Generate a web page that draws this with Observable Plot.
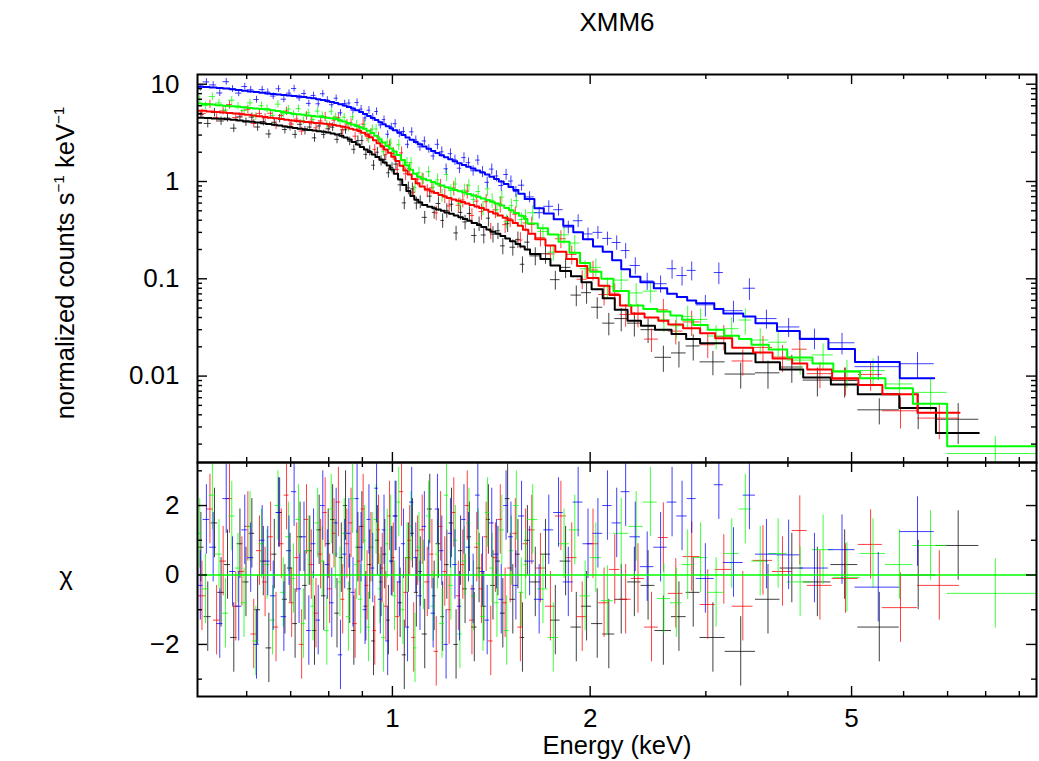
<!DOCTYPE html>
<html>
<head>
<meta charset="utf-8">
<script src="https://cdn.jsdelivr.net/npm/d3@7"></script>
<script src="https://cdn.jsdelivr.net/npm/@observablehq/plot@0.6"></script>
<style>
html,body{margin:0;padding:0;background:#fff;}
#wrap{position:relative;width:1039px;height:761px;overflow:hidden;font-family:"Liberation Sans",Arial,Helvetica,sans-serif;color:#000;}
.pane{position:absolute;left:0;}
#top{top:0;}
#bot{top:462px;}
.lbl{position:absolute;white-space:nowrap;line-height:1;}
.lbl sup{font-size:0.6em;vertical-align:0.7em;line-height:0;}
</style>
</head>
<body>
<div id="wrap">
  <div class="pane" id="top"></div>
  <div class="pane" id="bot"></div>
  <div class="lbl" style="left:617px;top:22px;transform:translate(-50%,-50%);font-size:26px">XMM6</div>
  <div class="lbl" style="left:617px;top:746px;transform:translate(-50%,-50%);font-size:25.5px">Energy (keV)</div>
  <div class="lbl" style="left:66px;top:263px;transform:translate(-50%,-50%) rotate(-90deg);font-size:25.5px">normalized counts s<sup>−1</sup> keV<sup>−1</sup></div>
  <div class="lbl" style="left:66px;top:576px;transform:translate(-50%,-50%);font-size:26px">χ</div>
</div>
<script>
// ---------------- tick values ----------------
const energyMajor = [1, 2, 5];
const energyMinor = [0.6, 0.7, 0.8, 0.9, 3, 4, 6, 7, 8, 9];
const rateMajor = [0.01, 0.1, 1, 10];
const rateMinor = [0.002,0.003,0.004,0.005,0.006,0.007,0.008,0.009,0.02,0.03,0.04,0.05,0.06,0.07,0.08,0.09,0.2,0.3,0.4,0.5,0.6,0.7,0.8,0.9,2,3,4,5,6,7,8,9];
const chiMajor = [-2, 0, 2];
const chiMinor = [-3, -1, 1, 3];

// ---------------- black spectrum ----------------
const blackEdges = [0.505,0.517,0.530,0.542,0.555,0.567,0.580,0.592,0.605,0.617,0.630,0.642,0.655,0.667,0.680,0.692,0.705,0.717,0.730,0.742,0.755,0.767,0.780,0.792,0.805,0.817,0.830,0.842,0.855,0.867,0.880,0.892,0.905,0.917,0.930,0.942,0.955,0.967,0.980,0.992,1.005,
  1.02,1.035,1.05,1.065,1.08,1.095,1.11,1.13,1.15,1.165,1.185,1.2,1.22,1.24,1.26,1.28,1.30,1.32,1.345,1.365,1.39,1.41,1.435,1.46,1.485,1.51,1.54,1.565,1.59,1.62,
  1.68,1.74,1.8,1.87,1.94,2.01,
  2.09,2.18,2.28,2.39,2.51,2.66,2.8,2.94,
  3.21,3.57,3.89,4.22,4.65,5.11,5.91,6.72,7.81];
const blackModel = [4.53,4.49,4.45,4.41,4.36,4.3,4.24,4.17,4.1,4.03,3.97,3.9,3.83,3.76,3.68,3.61,3.55,3.49,3.44,3.39,
  3.34,3.29,3.24,3.19,3.12,3.04,2.95,2.83,2.7,2.55,2.4,2.26,2.13,2.01,1.9,1.79,1.68,1.57,1.46,1.33,
  1.2,1.05,0.92,0.8,0.71,0.65,0.61,0.575,0.55,0.53,0.515,0.5,0.48,0.465,0.448,0.43,0.412,0.395,0.375,0.357,
  0.34,0.322,0.305,0.29,0.275,0.26,0.243,0.228,0.215,0.2,
  0.18,0.16,0.137,0.12,0.106,0.092,
  0.078,0.063,0.048,0.037,0.033,0.03,0.027,0.024,
  0.0217,0.0171,0.0139,0.0117,0.0097,0.0082,0.0065,0.0047,0.0026];
const blackData = [4.89,3.95,5.12,4.19,4.49,3.53,4.62,4.09,4.59,3.63,4.13,3.08,4.06,4.44,3.42,3.68,3.05,3.87,3.34,3.63,
  2.81,3.72,3.05,3.48,3.62,2.71,3.1,3.4,2.59,2.14,2.63,2.64,1.9,2.08,1.47,2.0,1.64,1.68,1.23,1.39,
  1.51,0.924,0.603,0.86,0.838,0.601,0.619,0.428,0.707,0.482,0.594,0.398,0.504,0.584,0.296,0.481,0.384,0.469,0.279,0.369,
  0.282,0.42,0.288,0.312,0.218,0.369,0.211,0.254,0.141,0.238,
  0.172,0.181,0.098,0.131,0.068,0.072,
  0.051,0.035,0.039,0.035,0.030,0.0156,0.0173,0.0204,
  0.014,0.0105,0.0108,0.0124,0.0091,0.009,0.0045,0.0047,0.0036];
const blackErr = [0.09,0.1,0.1,0.1,0.09,0.1,0.1,0.1,0.1,0.1,0.1,0.1,0.1,0.1,0.1,0.1,0.1,0.11,0.1,0.1,
  0.1,0.1,0.1,0.11,0.1,0.1,0.11,0.1,0.1,0.11,0.12,0.12,0.12,0.12,0.12,0.12,0.12,0.12,0.12,0.12,
  0.15,0.15,0.15,0.15,0.15,0.15,0.15,0.15,0.15,0.15,0.17,0.17,0.17,0.17,0.17,0.17,0.17,0.17,0.17,0.17,
  0.19,0.19,0.19,0.19,0.19,0.19,0.19,0.19,0.19,0.19,
  0.21,0.22,0.22,0.23,0.24,0.24,
  0.25,0.26,0.27,0.28,0.28,0.3,0.3,0.3,
  0.28,0.3,0.32,0.32,0.33,0.34,0.3,0.4,0.45];
const blackChi = [0.8,-1.2,1.5,-0.5,0.3,-1.8,0.9,-0.2,1.2,-1.0,0.4,-2.1,0.6,1.8,-0.7,0.2,-1.4,1.1,-0.3,0.7,
  -1.6,1.3,-0.6,0.9,1.6,-1.1,0.5,2.0,-0.4,-1.6,0.8,1.4,-0.9,0.3,-1.9,1.0,-0.2,0.6,-1.3,0.4,
  1.7,-0.8,-2.3,0.5,1.2,-0.5,0.1,-1.7,1.9,-0.6,0.9,-1.2,0.3,1.5,-2.0,0.7,-0.4,1.1,-1.5,0.2,
  -0.9,1.6,-0.3,0.4,-1.1,2.2,-0.7,0.6,-1.8,1.0,
  -0.2,0.6,-1.3,0.4,-1.5,-0.9,
  -1.4,-1.7,-0.7,-0.2,-0.3,-1.6,-1.2,-0.5,
  -1.8,-2.2,-0.7,0.2,-0.2,0.3,-1.5,0.0,0.85];

// ---------------- red spectrum ----------------
const redEdges = [0.505,0.521,0.534,0.546,0.559,0.571,0.584,0.596,0.609,0.621,0.634,0.646,0.659,0.671,0.684,0.696,0.709,0.721,0.734,0.746,0.759,0.771,0.784,0.796,0.809,0.821,0.834,0.846,0.859,0.871,0.884,0.896,0.909,0.921,0.934,0.946,0.959,0.971,0.984,0.996,
  1.01,1.025,1.04,1.055,1.07,1.085,1.1,1.12,1.14,1.157,1.175,1.193,1.21,1.23,1.25,1.27,1.29,1.31,1.333,1.355,1.378,1.4,1.423,1.447,1.472,1.497,1.525,1.552,1.58,1.61,
  1.65,1.71,1.77,1.84,1.91,1.98,
  2.06,2.14,2.22,2.31,2.42,2.54,2.63,2.77,2.94,
  3.1,3.29,3.54,3.79,4.06,4.28,4.67,5.12,5.57,6.3,7.3];
const redModel = [5.33,5.24,5.18,5.12,5.06,4.99,4.91,4.84,4.76,4.68,4.61,4.53,4.46,4.38,4.31,4.24,4.18,4.13,4.09,4.04,
  4.0,3.96,3.92,3.87,3.81,3.74,3.66,3.58,3.49,3.4,3.3,3.17,3.02,2.85,2.65,2.47,2.29,2.13,1.98,
  1.8,1.62,1.45,1.3,1.18,1.06,0.96,0.89,0.83,0.79,0.76,0.725,0.7,0.675,0.655,0.635,0.615,0.595,0.575,0.553,
  0.533,0.512,0.49,0.468,0.447,0.425,0.4,0.375,0.35,0.32,
  0.29,0.255,0.22,0.19,0.16,0.135,
  0.102,0.085,0.068,0.053,0.044,0.04,0.037,0.034,0.031,
  0.0275,0.0245,0.0196,0.0175,0.0152,0.0135,0.0117,0.0095,0.0081,0.0065,0.0042];
const redData = [5.01,6.24,4.51,5.32,6.17,4.54,4.96,5.52,3.95,5.01,4.52,5.03,3.79,4.77,5.3,3.9,4.39,3.3,4.74,4.16,
  3.56,4.2,4.63,3.72,4.27,4.53,3.4,3.9,4.01,2.92,3.46,3.89,2.91,3.12,2.14,2.86,2.34,1.9,2.38,
  1.94,1.33,1.97,1.2,1.36,0.774,1.06,1.06,0.805,0.861,0.476,0.898,0.712,0.56,0.855,0.57,0.646,0.797,0.448,0.628,
  0.492,0.619,0.313,0.512,0.583,0.36,0.415,0.461,0.25,0.375,
  0.362,0.265,0.18,0.258,0.178,0.099,
  0.123,0.069,0.071,0.043,0.043,0.024,0.048,0.029,0.036,
  0.021,0.0256,0.0143,0.0197,0.0157,0.0189,0.0106,0.0092,0.0104,0.0044,0.0037];
const redErr = [0.1,0.1,0.1,0.09,0.1,0.1,0.1,0.1,0.1,0.1,0.1,0.1,0.1,0.1,0.1,0.11,0.1,0.1,0.1,0.1,
  0.1,0.1,0.11,0.1,0.1,0.1,0.1,0.11,0.1,0.1,0.12,0.12,0.12,0.12,0.12,0.12,0.12,0.12,0.12,
  0.15,0.15,0.15,0.15,0.15,0.15,0.15,0.15,0.15,0.15,0.17,0.17,0.17,0.17,0.17,0.17,0.17,0.17,0.17,0.17,
  0.19,0.19,0.19,0.19,0.19,0.19,0.19,0.19,0.19,0.19,
  0.19,0.2,0.2,0.21,0.22,0.22,
  0.23,0.24,0.25,0.26,0.27,0.27,0.28,0.28,0.29,
  0.28,0.29,0.3,0.3,0.31,0.3,0.3,0.32,0.33,0.35,0.4];
const redChi = [-0.6,1.9,-1.3,0.4,2.2,-0.9,0.1,1.4,-1.7,0.7,-0.2,1.1,-1.5,0.9,2.3,-0.8,0.5,-2.0,1.6,0.3,
  -1.1,0.6,1.8,-0.4,1.2,2.1,-0.7,0.9,1.5,-1.4,0.4,1.9,-0.3,0.8,-1.6,1.3,0.2,-0.9,1.7,
  0.5,-1.2,2.4,-0.5,1.0,-1.8,0.7,1.3,-0.2,0.6,-2.2,1.4,0.1,-1.0,1.8,-0.6,0.3,2.0,-1.3,0.8,
  -0.4,1.1,-1.9,0.5,1.6,-0.8,0.2,1.2,-1.5,0.9,
  1.3,0.2,-0.9,1.7,0.5,-1.2,
  0.9,-0.8,0.16,-0.7,-0.1,-1.5,1.08,-0.53,0.53,
  -0.85,0.16,-0.9,0.42,0.1,1.28,-0.3,-0.1,0.88,-0.94,-0.3];

// ---------------- green spectrum ----------------
const greenEdges = [0.505,0.513,0.526,0.538,0.551,0.563,0.576,0.588,0.601,0.613,0.626,0.638,0.651,0.663,0.676,0.688,0.701,0.713,0.726,0.738,0.751,0.763,0.776,0.788,0.801,0.813,0.826,0.838,0.851,0.863,0.876,0.888,0.901,0.913,0.926,0.938,0.951,0.963,0.976,0.988,1.0,
  1.015,1.03,1.045,1.06,1.075,1.09,1.105,1.125,1.145,1.163,1.18,1.2,1.218,1.237,1.257,1.277,1.297,1.318,1.34,1.362,1.385,1.407,1.43,1.455,1.48,1.505,1.53,1.558,1.585,1.605,
  1.665,1.725,1.79,1.86,1.93,2.0,
  2.08,2.17,2.29,2.41,2.53,2.65,2.76,2.87,3.02,3.2,3.37,3.52,3.74,3.99,4.36,4.69,5.15,5.63,6.2,6.99,9.56];
const greenModel = [6.32,6.25,6.17,6.09,6.01,5.93,5.86,5.78,5.71,5.63,5.56,5.48,5.39,5.29,5.17,5.05,4.96,4.9,4.84,4.78,
  4.72,4.66,4.6,4.53,4.46,4.38,4.27,4.14,4.0,3.86,3.72,3.6,3.48,3.33,3.16,2.95,2.72,2.52,2.32,2.18,
  2.03,1.87,1.66,1.47,1.32,1.2,1.12,1.07,1.03,0.99,0.95,0.91,0.875,0.845,0.82,0.795,0.77,0.745,0.72,0.695,
  0.67,0.645,0.62,0.595,0.565,0.535,0.505,0.475,0.445,0.415,
  0.37,0.33,0.285,0.24,0.185,0.145,
  0.118,0.1,0.075,0.053,0.049,0.046,0.042,0.038,0.0335,0.030,0.026,0.024,0.021,0.0188,0.0155,0.0135,0.0112,0.0095,0.0075,0.0052,0.0019];
const greenData = [7.0,6.03,7.45,6.42,5.42,6.84,5.97,5.36,6.43,4.67,6.01,5.63,4.76,6.24,4.94,5.55,4.92,5.61,4.23,5.08,
  4.34,5.29,4.77,3.88,5.22,4.62,4.19,4.59,3.57,4.62,3.84,3.32,3.86,2.78,3.44,3.47,2.6,2.02,2.55,2.49,
  1.87,2.38,1.44,1.57,1.56,0.872,1.24,1.07,1.26,0.874,1.04,0.719,1.18,0.807,0.943,0.592,0.816,0.913,0.655,0.789,
  0.533,0.842,0.641,0.514,0.69,0.389,0.565,0.637,0.407,0.436,
  0.477,0.306,0.188,0.283,0.233,0.127,
  0.131,0.083,0.097,0.0716,0.0747,0.0379,0.0329,0.0411,0.0382,0.0258,0.0307,0.0377,0.0235,0.0223,0.0146,0.0165,0.011,0.0114,0.0083,0.0068,0.0016];
const greenErr = [0.09,0.09,0.09,0.09,0.09,0.09,0.09,0.09,0.09,0.09,0.09,0.09,0.09,0.09,0.09,0.09,0.09,0.09,0.09,0.09,
  0.09,0.09,0.09,0.09,0.09,0.09,0.09,0.09,0.09,0.09,0.11,0.11,0.11,0.11,0.11,0.11,0.11,0.11,0.11,0.11,
  0.13,0.13,0.13,0.13,0.13,0.13,0.13,0.13,0.13,0.13,0.15,0.15,0.15,0.15,0.15,0.15,0.15,0.15,0.15,0.15,
  0.17,0.17,0.17,0.17,0.17,0.17,0.17,0.17,0.17,0.17,
  0.18,0.18,0.19,0.2,0.2,0.21,
  0.22,0.23,0.24,0.25,0.25,0.26,0.27,0.27,0.28,0.28,0.29,0.3,0.3,0.3,0.3,0.3,0.32,0.32,0.34,0.36,0.5];
const greenChi = [1.2,-0.4,2.3,0.6,-1.1,1.7,0.2,-0.8,1.4,-1.9,0.9,0.3,-1.3,2.0,-0.5,1.1,-0.1,1.6,-1.4,0.7,
  -0.9,1.5,0.4,-1.6,1.9,0.6,-0.2,1.2,-1.2,2.2,0.3,-0.7,1.0,-1.5,0.8,1.6,-0.4,-1.8,0.9,1.3,
  -0.6,2.1,-1.0,0.5,1.4,-2.1,0.8,0.0,1.7,-0.9,0.6,-1.4,2.3,-0.3,1.0,-1.7,0.4,1.5,-0.6,0.9,
  -1.2,1.8,0.2,-0.8,1.3,-1.6,0.7,2.0,-0.5,0.3,
  1.6,-0.4,-1.8,0.9,1.3,-0.6,
  0.5,-0.74,1.2,1.4,2.1,-0.68,-0.8,0.3,0.5,-0.5,0.62,1.9,0.4,0.62,-0.2,0.73,-0.07,0.62,0.3,0.85,-0.53];

// ---------------- blue spectrum ----------------
const blueEdges = [0.505,0.515,0.527,0.540,0.552,0.565,0.577,0.590,0.602,0.615,0.627,0.640,0.652,0.665,0.677,0.690,0.702,0.715,0.727,0.740,0.752,0.765,0.777,0.790,0.802,0.815,0.827,0.840,0.852,0.865,0.877,0.890,0.902,0.915,0.927,0.940,0.952,0.965,0.977,0.990,1.002,
  1.017,1.032,1.047,1.062,1.078,1.093,1.11,1.127,1.145,1.162,1.18,1.198,1.216,1.235,1.255,1.275,1.295,1.316,1.338,1.36,1.383,1.405,1.428,1.452,1.477,1.502,1.528,1.555,1.59,1.645,
  1.7,1.76,1.82,1.885,1.95,2.02,
  2.09,2.16,2.23,2.3,2.385,2.5,2.62,2.71,2.81,2.9,3.09,3.19,3.42,3.57,3.85,4.17,4.61,5.06,5.92,6.68];
const blueModel = [9.45,9.36,9.25,9.14,9.02,8.88,8.73,8.58,8.43,8.29,8.15,8.03,7.93,7.84,7.75,7.67,7.57,7.47,7.37,7.27,
  7.15,7.02,6.88,6.73,6.57,6.4,6.22,6.04,5.84,5.63,5.41,5.18,4.95,4.72,4.5,4.28,4.07,3.88,3.69,3.52,
  3.36,3.18,3.0,2.84,2.68,2.54,2.41,2.29,2.17,2.06,1.96,1.86,1.77,1.69,1.61,1.54,1.48,1.42,1.36,1.3,
  1.24,1.18,1.12,1.06,1.0,0.94,0.88,0.82,0.75,0.66,
  0.53,0.47,0.41,0.35,0.3,0.255,
  0.215,0.19,0.155,0.125,0.105,0.092,0.08,0.07,0.065,0.06,0.056,0.049,0.044,0.041,0.035,0.029,0.024,0.019,0.014,0.0095];
const blueData = [9.22,10.56,9.84,8.12,10.61,8.95,8.1,9.47,8.77,6.96,8.8,8.29,7.55,8.97,7.01,8.1,9.02,7.23,8.02,6.34,
  7.66,6.29,7.98,6.89,6.15,7.17,5.08,6.33,6.4,5.4,6.48,5.55,4.5,5.4,4.58,5.24,3.81,4.33,3.06,3.65,
  3.93,3.12,3.27,2.41,3.24,2.67,2.27,2.61,2.17,1.83,2.41,2.02,1.35,1.93,1.67,1.37,1.76,1.56,1.29,1.66,
  1.26,0.981,1.34,1.14,0.909,1.18,1.01,0.788,0.916,0.694,
  0.478,0.556,0.513,0.34,0.395,0.289,
  0.3,0.26,0.236,0.195,0.137,0.095,0.089,0.127,0.108,0.122,0.054,0.116,0.047,0.08,0.039,0.032,0.0245,0.022,0.0125,0.0134];
const blueErr = [0.08,0.08,0.08,0.08,0.08,0.08,0.08,0.08,0.08,0.08,0.08,0.08,0.08,0.08,0.08,0.08,0.08,0.08,0.08,0.08,
  0.08,0.08,0.08,0.08,0.08,0.08,0.08,0.08,0.08,0.08,0.09,0.09,0.09,0.09,0.09,0.09,0.09,0.09,0.09,0.09,
  0.1,0.1,0.1,0.1,0.1,0.1,0.1,0.1,0.1,0.1,0.12,0.12,0.12,0.12,0.12,0.12,0.12,0.12,0.12,0.12,
  0.13,0.13,0.13,0.13,0.13,0.13,0.13,0.13,0.13,0.13,
  0.14,0.14,0.14,0.15,0.15,0.15,
  0.15,0.16,0.17,0.18,0.2,0.2,0.2,0.22,0.22,0.22,0.25,0.25,0.25,0.25,0.22,0.22,0.24,0.25,0.28,0.3];
const blueChi = [-0.3,1.6,0.8,-1.4,2.2,0.1,-0.9,1.3,0.5,-2.0,1.0,0.4,-0.6,1.8,-1.2,0.7,2.4,-0.4,1.1,-1.6,
  0.9,-1.3,2.0,0.3,-0.8,1.5,-2.3,0.6,1.2,-0.5,2.2,0.8,-1.0,1.6,0.2,2.5,-0.7,1.3,-1.9,0.4,
  1.7,-0.2,0.9,-1.5,2.1,0.5,-0.6,1.4,0.0,-1.1,1.9,0.7,-2.0,1.2,0.3,-0.9,1.6,0.8,-0.4,2.3,
  0.1,-1.3,1.5,0.6,-0.7,2.0,1.1,-0.3,1.7,0.4,
  -0.7,1.3,1.8,-0.2,2.1,0.9,
  1.2,2.0,1.5,2.4,1.1,0.24,0.8,2.1,1.7,2.2,-0.1,2.6,0.36,2.3,0.6,0.58,0.2,0.73,-0.35,1.25];

// ---------------- assemble tables ----------------
const seriesList = [
  {name: "black", color: "#000000", edges: blackEdges, model: blackModel, data: blackData, err: blackErr, chi: blackChi},
  {name: "red",   color: "#ff0000", edges: redEdges,   model: redModel,   data: redData,   err: redErr,   chi: redChi},
  {name: "green", color: "#00ff00", edges: greenEdges, model: greenModel, data: greenData, err: greenErr, chi: greenChi},
  {name: "blue",  color: "#0000ff", edges: blueEdges,  model: blueModel,  data: blueData,  err: blueErr,  chi: blueChi}
];
seriesList.forEach(s => {
  const n = s.model.length;
  if (s.edges.length !== n + 1 || s.data.length !== n || s.err.length !== n || s.chi.length !== n)
    throw new Error(`length mismatch ${s.name}: edges ${s.edges.length} model ${n} data ${s.data.length} err ${s.err.length} chi ${s.chi.length}`);
});
function binTable(s) {
  return s.model.map((m, i) => ({
    lo: s.edges[i], hi: s.edges[i + 1], mid: (s.edges[i] + s.edges[i + 1]) / 2,
    model: m, data: s.data[i],
    ylo: s.data[i] * (1 - s.err[i]), yhi: s.data[i] * (1 + s.err[i]),
    chi: s.chi[i], clo: s.chi[i] - 1, chiHi: s.chi[i] + 1
  }));
}
function stepTable(s) {
  const pts = s.model.map((m, i) => ({e: s.edges[i], v: m}));
  pts.push({e: s.edges[s.edges.length - 1], v: s.model[s.model.length - 1]});
  return pts;
}
seriesList.forEach(s => { s.bins = binTable(s); s.steps = stepTable(s); });

// ---------------- layout ----------------
const W = 1039, ML = 197, MR = 3;
const IW = W - ML - MR;
const topMT = 74, topH = 462, topIH = topH - topMT;
const botH = 299, botMB = 65, botIH = botH - botMB;
const font = '"Liberation Sans", Arial, Helvetica, sans-serif';
const xDomain = [0.505, 9.56];

function frameTicks(xMaj, xMin, yMaj, yMin, ih) {
  const s = {stroke: "black", strokeWidth: 1.4};
  return [
    Plot.ruleX(xMaj, {...s, insetTop: ih - 10}),
    Plot.ruleX(xMaj, {...s, insetBottom: ih - 10}),
    Plot.ruleX(xMin, {...s, insetTop: ih - 5}),
    Plot.ruleX(xMin, {...s, insetBottom: ih - 5}),
    Plot.ruleY(yMaj, {...s, insetRight: IW - 10}),
    Plot.ruleY(yMaj, {...s, insetLeft: IW - 10}),
    Plot.ruleY(yMin, {...s, insetRight: IW - 5}),
    Plot.ruleY(yMin, {...s, insetLeft: IW - 5})
  ];
}

const barStyle = {strokeWidth: 1, strokeOpacity: 0.75, clip: true};
const topMarks = [];
seriesList.forEach(s => {
  topMarks.push(Plot.ruleY(s.bins, {y: "data", x1: "lo", x2: "hi", stroke: s.color, ...barStyle}));
  topMarks.push(Plot.ruleX(s.bins, {x: "mid", y1: "ylo", y2: "yhi", stroke: s.color, ...barStyle}));
});
seriesList.forEach(s => {
  topMarks.push(Plot.line(s.steps, {x: "e", y: "v", stroke: s.color, strokeWidth: 2, curve: "step-after", clip: true}));
});

const topPlot = Plot.plot({
  width: W, height: topH,
  marginTop: topMT, marginBottom: 0, marginLeft: ML, marginRight: MR,
  style: {background: "transparent", overflow: "visible", fontFamily: font, fontSize: "26px", color: "black"},
  x: {type: "log", domain: xDomain, axis: null},
  y: {type: "log", domain: [0.001294, 12.58]},
  marks: [
    ...topMarks,
    ...frameTicks(energyMajor, energyMinor, rateMajor, rateMinor, topIH),
    Plot.frame({stroke: "black", strokeWidth: 2}),
    Plot.axisY(rateMajor, {anchor: "left", tickSize: 0, tickPadding: 18, tickFormat: d => String(d), label: null, fontSize: 26})
  ]
});
document.getElementById("top").appendChild(topPlot);

const botMarks = [];
seriesList.forEach(s => {
  botMarks.push(Plot.ruleY(s.bins, {y: "chi", x1: "lo", x2: "hi", stroke: s.color, ...barStyle}));
  botMarks.push(Plot.ruleX(s.bins, {x: "mid", y1: "clo", y2: "chiHi", stroke: s.color, ...barStyle}));
});

const botPlot = Plot.plot({
  width: W, height: botH,
  marginTop: 0, marginBottom: botMB, marginLeft: ML, marginRight: MR,
  style: {background: "transparent", overflow: "visible", fontFamily: font, fontSize: "26px", color: "black"},
  x: {type: "log", domain: xDomain},
  y: {domain: [-3.5, 3.24]},
  marks: [
    ...botMarks,
    Plot.ruleY([0], {stroke: "#00ff00", strokeWidth: 1.5}),
    ...frameTicks(energyMajor, energyMinor, chiMajor, chiMinor, botIH),
    Plot.frame({stroke: "black", strokeWidth: 2}),
    Plot.axisY(chiMajor, {anchor: "left", tickSize: 0, tickPadding: 18, tickFormat: d => d < 0 ? "\u2212" + Math.abs(d) : String(d), label: null, fontSize: 26}),
    Plot.axisX(energyMajor, {anchor: "bottom", tickSize: 0, tickPadding: 12, tickFormat: d => String(d), label: null, fontSize: 26})
  ]
});
document.getElementById("bot").appendChild(botPlot);
</script>
</body>
</html>
